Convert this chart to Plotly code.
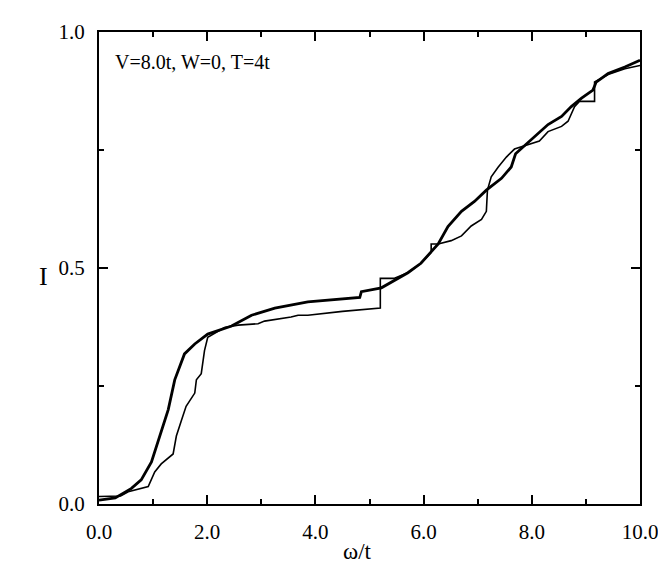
import plotly.graph_objects as go

# thick (smooth) curve
omega_a = [0.0, 0.3, 0.6, 0.78, 0.97, 1.12, 1.28, 1.40, 1.58, 1.77, 2.01, 2.45, 2.82, 3.25,
           3.68, 3.86, 4.82, 4.85, 5.22, 5.40, 5.71, 5.95, 6.14, 6.27, 6.45, 6.70, 6.94, 7.16,
           7.44, 7.62, 7.70, 7.93, 8.11, 8.30, 8.55, 8.73, 8.92, 9.13, 9.19, 9.41, 9.72, 10.0]
I_a = [0.008, 0.013, 0.033, 0.051, 0.089, 0.144, 0.200, 0.263, 0.318, 0.339, 0.360, 0.377,
       0.400, 0.415, 0.424, 0.428, 0.4375, 0.450, 0.458, 0.470, 0.490, 0.510, 0.533, 0.551,
       0.588, 0.620, 0.641, 0.665, 0.690, 0.714, 0.742, 0.766, 0.783, 0.804, 0.821, 0.842,
       0.860, 0.877, 0.894, 0.912, 0.926, 0.940]

# thin (step-like) curve
omega_b = [0.0, 0.4, 0.54, 0.75, 0.91, 1.03, 1.15, 1.37, 1.43, 1.52, 1.61, 1.77, 1.80, 1.89,
           1.95, 2.01, 2.32, 2.57, 2.94, 3.06, 3.55, 3.68, 3.86, 4.50, 5.20, 5.20, 5.45, 5.71,
           5.95, 6.14, 6.14, 6.27, 6.51, 6.70, 6.88, 7.07, 7.16, 7.18, 7.25, 7.38, 7.53, 7.68,
           7.90, 8.14, 8.30, 8.55, 8.67, 8.73, 8.79, 8.88, 9.16, 9.16, 9.41, 9.72, 10.0]
I_b = [0.016, 0.017, 0.026, 0.032, 0.037, 0.068, 0.085, 0.106, 0.144, 0.176, 0.207, 0.235,
       0.263, 0.276, 0.325, 0.353, 0.374, 0.379, 0.382, 0.3875, 0.396, 0.400, 0.400, 0.408,
       0.415, 0.478, 0.478, 0.490, 0.510, 0.533, 0.551, 0.551, 0.558, 0.568, 0.589, 0.603,
       0.620, 0.665, 0.693, 0.714, 0.735, 0.752, 0.760, 0.769, 0.789, 0.800, 0.811, 0.828,
       0.842, 0.853, 0.853, 0.894, 0.910, 0.922, 0.929]

x_ticks = [0, 2, 4, 6, 8, 10]
x_labels = ["0.0", "2.0", "4.0", "6.0", "8.0", "10.0"]
y_ticks = [0, 0.5, 1.0]
y_labels = ["0.0", "0.5", "1.0"]

fig = go.Figure()
fig.add_trace(go.Scatter(x=omega_b, y=I_b, mode="lines",
                         line=dict(color="black", width=1.6)))
fig.add_trace(go.Scatter(x=omega_a, y=I_a, mode="lines",
                         line=dict(color="black", width=2.8)))

font = "Liberation Serif, Times New Roman, serif"
axis_common = dict(showline=True, linecolor="black", linewidth=2, mirror="allticks",
                   ticks="inside", ticklen=9, tickwidth=1.5, tickcolor="black",
                   showgrid=False, zeroline=False,
                   tickfont=dict(family=font, size=21, color="black"))

fig.update_xaxes(range=[0, 10], tickvals=x_ticks, ticktext=x_labels,
                 minor=dict(tickvals=[1, 3, 5, 7, 9], ticks="inside", ticklen=5,
                            tickwidth=1.5, tickcolor="black"),
                 ticklabelstandoff=8, **axis_common)
fig.update_yaxes(range=[0, 1], tickvals=y_ticks, ticktext=y_labels,
                 minor=dict(tickvals=[0.25, 0.75], ticks="inside", ticklen=5,
                            tickwidth=1.5, tickcolor="black"),
                 ticklabelstandoff=8, **axis_common)

fig.add_annotation(text="V=8.0t, W=0, T=4t", xref="paper", yref="paper",
                   x=0.026, y=0.9375, xanchor="left", yanchor="middle", showarrow=False,
                   font=dict(family=font, size=20, color="black"))
fig.add_annotation(text="ω/t", xref="paper", yref="paper", x=(349 - 91) / 541, y=-48 / 480,
                   xanchor="center", yanchor="middle", showarrow=False,
                   font=dict(family=font, size=23, color="black"))
fig.add_annotation(text="I", xref="paper", yref="paper", x=-56 / 541, y=0.482,
                   xanchor="center", yanchor="middle", showarrow=False,
                   font=dict(family=font, size=26, color="black"))

fig.update_layout(width=666, height=567, margin=dict(l=91, r=34, t=16, b=71),
                  plot_bgcolor="white", paper_bgcolor="white", showlegend=False)

fig.write_html("out.html")
